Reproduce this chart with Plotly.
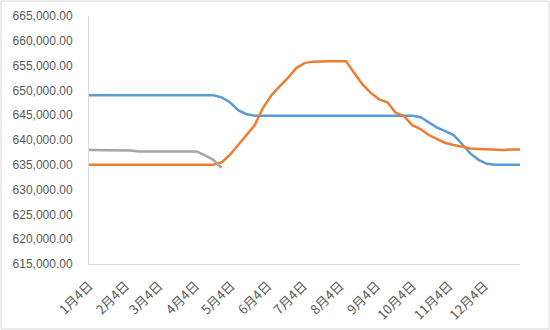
import plotly.graph_objects as go
import pandas as pd

# weekly dates starting Jan 4
dates = [d.strftime("%Y-%m-%d") for d in pd.date_range("2021-01-04", periods=53, freq="7D")]

blue = [649.0]*16 + [648.6, 647.6, 646.0, 645.2] + [644.9]*20 + \
       [644.6, 643.5, 642.5, 641.8, 641.0, 639.2, 637.3, 636.0, 635.2, 635.0, 635.0, 635.0, 635.0]
orange = [635.0]*16 + [635.5, 637.0, 639.0, 641.0, 643.0, 646.5, 649.0, 650.8, 652.5, 654.5,
          655.5, 655.8, 655.9, 655.9, 655.9, 655.9, 653.5, 651.2, 649.5, 648.2, 647.6, 645.5,
          644.8, 643.0, 642.2, 641.0, 640.2, 639.4, 639.0, 638.6, 638.3, 638.2, 638.1, 638.0,
          638.0, 638.1, 638.1]
gray = [638.0]*5 + [637.9] + [637.7]*8 + [636.9, 636.0, 634.4]

blue = [v*1000 for v in blue]
orange = [v*1000 for v in orange]
gray = [v*1000 for v in gray]

tick_vals = ["2021-01-04", "2021-02-04", "2021-03-04", "2021-04-04", "2021-05-04", "2021-06-04",
             "2021-07-04", "2021-08-04", "2021-09-04", "2021-10-04", "2021-11-04", "2021-12-04"]
tick_text = ["1月4日", "2月4日", "3月4日", "4月4日", "5月4日", "6月4日",
             "7月4日", "8月4日", "9月4日", "10月4日", "11月4日", "12月4日"]

fig = go.Figure()
fig.add_trace(go.Scatter(x=dates, y=blue, mode="lines", line=dict(color="#5B9BD5", width=2.5)))
fig.add_trace(go.Scatter(x=dates, y=orange, mode="lines", line=dict(color="#ED7D31", width=2.5)))
fig.add_trace(go.Scatter(x=dates[:len(gray)], y=gray, mode="lines", line=dict(color="#A5A5A5", width=2.5)))

fig.update_layout(
    width=550, height=330,
    margin=dict(l=89, r=30, t=16, b=66),
    paper_bgcolor="white", plot_bgcolor="white",
    showlegend=False,
    font=dict(family="Liberation Sans, Noto Sans CJK SC", size=12, color="#595959"),
)
fig.update_xaxes(
    type="date", range=["2021-01-04", "2022-01-03"],
    tickvals=tick_vals, ticktext=tick_text, tickangle=-45, automargin=False,
    showgrid=False, zeroline=False, showline=True, linecolor="#D9D9D9", linewidth=1,
    ticks="", ticklabelstandoff=8,
    tickfont=dict(family="Noto Sans CJK SC", size=13, color="#595959"),
)
fig.update_yaxes(
    range=[615000, 665000], dtick=5000, tickformat=",.2f", automargin=False,
    showgrid=False, zeroline=False, showline=True, linecolor="#D9D9D9", linewidth=1,
    ticks="", ticklabelstandoff=13,
)
fig.add_shape(type="rect", xref="paper", yref="paper",
              x0=-88/431, x1=1 + 29/431, y0=-65/248, y1=1 + 15/248,
              line=dict(color="#D9D9D9", width=1), fillcolor="rgba(0,0,0,0)")

fig.write_html("out.html")
